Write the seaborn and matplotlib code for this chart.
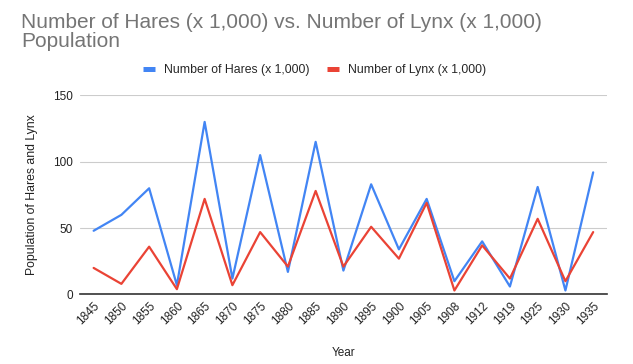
import pandas as pd
import numpy as np
import matplotlib
matplotlib.use('Agg')
import matplotlib.pyplot as plt
import seaborn as sns
from matplotlib.lines import Line2D

years = ['1845', '1850', '1855', '1860', '1865', '1870', '1875', '1880', '1885', '1890',
         '1895', '1900', '1905', '1908', '1912', '1919', '1925', '1930', '1935']
hares = [48, 60, 80, 7, 130, 12, 105, 17, 115, 18, 83, 34, 72, 10, 40, 6, 81, 3, 92]
lynx = [20, 8, 36, 4, 72, 7, 47, 21, 78, 21, 51, 27, 69, 3, 37, 12, 57, 10, 47]

hare_name = 'Number of Hares (x 1,000)'
lynx_name = 'Number of Lynx (x 1,000)'
colors = {hare_name: '#4285F4', lynx_name: '#EA4335'}

df = pd.DataFrame({'Year': years * 2,
                   'Population': hares + lynx,
                   'Series': [hare_name] * len(years) + [lynx_name] * len(years)})

sns.set_style('white')
plt.rcParams['font.family'] = ['Liberation Sans', 'DejaVu Sans']

fig = plt.figure(figsize=(6.33, 3.64), dpi=100)
ax = fig.add_axes([0.126, 0.191, 0.833, 0.547])

sns.lineplot(data=df, x='Year', y='Population', hue='Series', palette=colors,
             sort=False, linewidth=1.6, legend=False, ax=ax)

ax.set_xlim(-0.5, len(years) - 0.5)
ax.set_ylim(0, 150)
ax.set_yticks([0, 50, 100, 150])
ax.yaxis.grid(True, color='#CCCCCC', linewidth=0.8)
ax.set_axisbelow(True)
for s in ['top', 'right', 'left']:
    ax.spines[s].set_visible(False)
ax.spines['bottom'].set_color('#333333')
ax.spines['bottom'].set_linewidth(1.2)
ax.tick_params(axis='both', length=0, labelsize=8.5, colors='#222222')
ax.tick_params(axis='y', pad=5)
plt.setp(ax.get_xticklabels(), rotation=45, ha='right', rotation_mode='anchor')
ax.tick_params(axis='x', pad=4)

ax.set_xlabel('Year', fontsize=8.5, color='#222222', labelpad=14)
ax.set_ylabel('Population of Hares and Lynx', fontsize=8.8, color='#222222', labelpad=11)

fig.text(0.033, 0.963, 'Number of Hares (x 1,000) vs. Number of Lynx (x 1,000)\nPopulation',
         fontsize=15, color='#757575', va='top', ha='left', linespacing=0.98)

handles = [Line2D([], [], color=colors[hare_name], linewidth=3.6, solid_capstyle='butt'),
           Line2D([], [], color=colors[lynx_name], linewidth=3.6, solid_capstyle='butt')]
fig.legend(handles, [hare_name, lynx_name], loc='center', bbox_to_anchor=(0.497, 0.808),
           ncol=2, frameon=False, fontsize=8.8, handlelength=0.94, handletextpad=0.74,
           columnspacing=1.47, borderpad=0)

fig.savefig('out.png', dpi=100)
